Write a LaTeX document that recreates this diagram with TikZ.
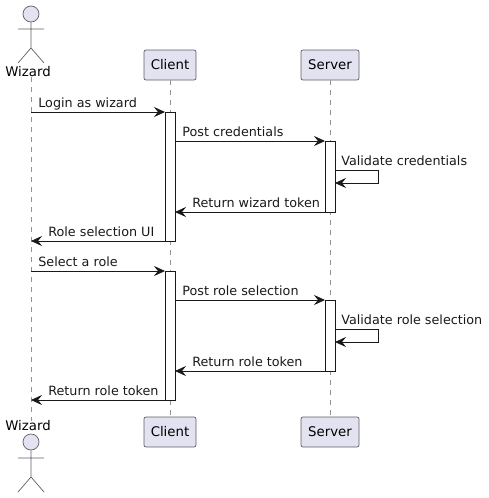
\documentclass[tikz,border=0pt]{standalone}
\usepackage{fontspec}
\setmainfont{DejaVu Sans}
\usetikzlibrary{positioning,arrows.meta}
\definecolor{partfill}{HTML}{E2E2F0}
\definecolor{partline}{HTML}{5F5F68}

\begin{document}
\begin{tikzpicture}[
      x=1pt, y=-1pt,
      part/.style={rectangle, draw=partline, fill=partfill, rounded corners=2pt, line width=0.7pt, minimum width=58pt, minimum height=30pt, inner sep=0pt, font=\fontsize{13.3}{16}\selectfont},
      clientpart/.style={part, minimum width=52pt},
      actorname/.style={inner sep=0pt, font=\fontsize{13.3}{16}\selectfont},
      head/.style={circle, draw=partline, fill=partfill, line width=0.7pt, minimum size=16pt, inner sep=0pt},
      limb/.style={draw=partline, line width=0.7pt},
      lifeline/.style={draw=gray!85, line width=0.6pt, dash pattern=on 5pt off 5pt},
      bar/.style={rectangle, draw=black!90, fill=white, line width=0.7pt, minimum width=10pt, inner sep=0pt, outer sep=0pt},
      msg/.style={draw=black!90, line width=0.7pt, -{Stealth[length=11pt, width=10pt, inset=4pt]}},
      lbl/.style={anchor=base west, inner sep=0pt, text=black!90, font=\fontsize{12.75}{15}\selectfont}
  ]
      \useasboundingbox (0,0) rectangle (489,498);

      % Participants
      \node (wizardtop) [actorname] at (28,72) {Wizard};
      \node (headtop) [head] at (31,14) {};
      \node (wizardbot) [actorname] at (28,426) {Wizard};
      \node (headbot) [head] at (31,442) {};
      \node (clienttop) [clientpart] at (170,65) {Client};
      \node (clientbot) [clientpart] at (170,432) {Client};
      \node (servertop) [part] at (330,65) {Server};
      \node (serverbot) [part] at (330,432) {Server};

      % Actor figures
      \draw[limb] (headtop.south) -- (31,48) (18,29) -- (44,29) (18,63) -- (31,48) -- (44,63);
      \draw[limb] (headbot.south) -- (31,477) (18,458) -- (44,458) (18,492) -- (31,477) -- (44,492);

      % Lifelines
      \draw[lifeline] (headtop |- wizardtop.south) -- (headtop |- wizardbot.north);
      \draw[lifeline] (clienttop) -- (clientbot);
      \draw[lifeline] (servertop) -- (serverbot);

      % Activations
      \node (clientA) [bar, minimum height=129pt] at (170,176.5) {};
      \node (clientB) [bar, minimum height=129pt] at (170,335.5) {};
      \node (serverA) [bar, minimum height=71pt] at (330,176.5) {};
      \node (serverB) [bar, minimum height=71pt] at (330,335.5) {};

      % Free ends on the wizard lifeline
      \coordinate (login) at (31,112);
      \coordinate (roleui) at (31,241);
      \coordinate (select) at (31,271);
      \coordinate (roleback) at (31,400);

      % Corners of the self calls
      \coordinate (selfAa) at (378,170);
      \coordinate (selfAb) at (378,183);
      \coordinate (selfBa) at (378,329);
      \coordinate (selfBb) at (378,342);

      % Messages
      \draw[msg] (login) -- node[lbl, pos=0, xshift=7pt, yshift=5pt] {Login as wizard} (clientA.north west);
      \draw[msg] (clientA.east |- 0,141) -- node[lbl, pos=0, xshift=7pt, yshift=5pt] {Post credentials} (serverA.north west);
      \draw[msg] (serverA.east |- selfAa) -- (selfAa) node[lbl, pos=0, xshift=6pt, yshift=5pt] {Validate credentials} -- (selfAb) -- (serverA.east |- selfAb);
      \draw[msg] (serverA.south west) -- node[lbl, pos=1, xshift=17pt, yshift=5pt] {Return wizard token} (clientA.east |- serverA.south);
      \draw[msg] (clientA.south west) -- node[lbl, pos=1, xshift=17pt, yshift=5pt] {Role selection UI} (roleui);

      \draw[msg] (select) -- node[lbl, pos=0, xshift=7pt, yshift=5pt] {Select a role} (clientB.north west);
      \draw[msg] (clientB.east |- 0,300) -- node[lbl, pos=0, xshift=7pt, yshift=5pt] {Post role selection} (serverB.north west);
      \draw[msg] (serverB.east |- selfBa) -- (selfBa) node[lbl, pos=0, xshift=6pt, yshift=5pt] {Validate role selection} -- (selfBb) -- (serverB.east |- selfBb);
      \draw[msg] (serverB.south west) -- node[lbl, pos=1, xshift=17pt, yshift=5pt] {Return role token} (clientB.east |- serverB.south);
      \draw[msg] (clientB.south west) -- node[lbl, pos=1, xshift=17pt, yshift=5pt] {Return role token} (roleback);
  \end{tikzpicture}
\end{document}
